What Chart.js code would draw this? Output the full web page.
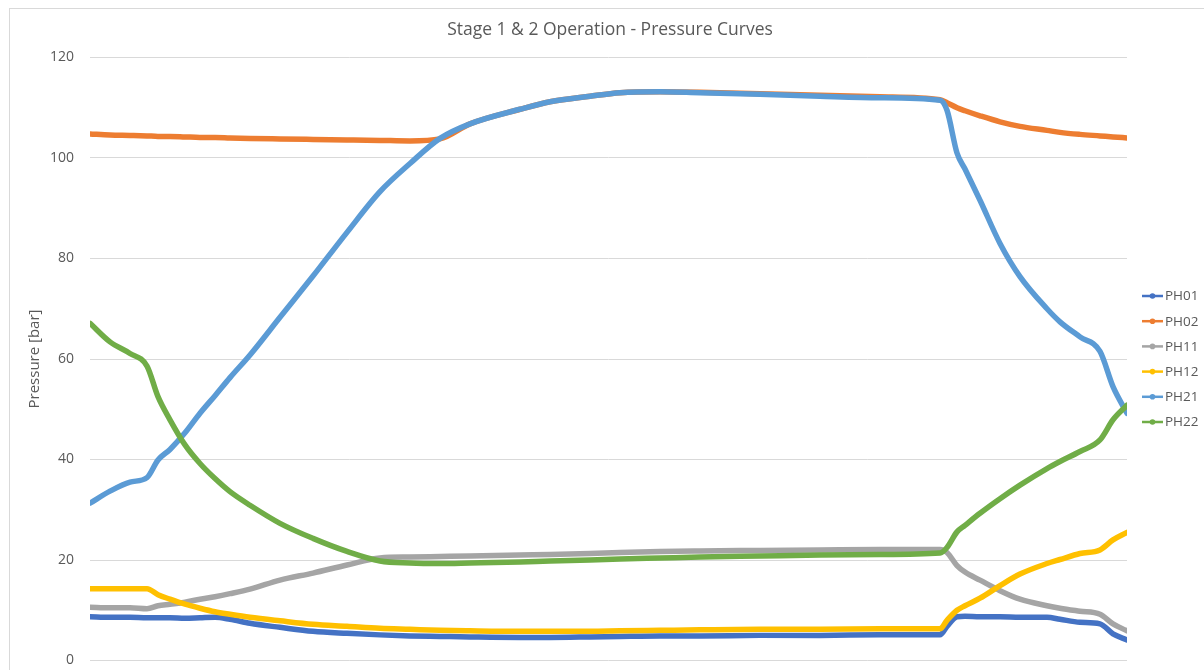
<!DOCTYPE html>
<html>
<head>
<meta charset="utf-8">
<script src="https://cdn.jsdelivr.net/npm/chart.js@4/dist/chart.umd.min.js"></script>
<style>
  html, body { margin: 0; padding: 0; background: #fff; }
  #wrap { width: 1204px; height: 670px; }
</style>
</head>
<body>
<div id="wrap"><canvas id="c" width="1204" height="670"></canvas></div>
<script>
// sample time (arbitrary units along the hidden x axis)
const time = [0,20,40,57,68,80,95,110,125,140,160,190,223,257,290,320,350,380,430,460,500,530,570,610,670,730,790,850,857,867,875,890,910,930,957,970,990,1010,1023,1037];

const PH01 = [8.7,8.6,8.6,8.5,8.5,8.5,8.4,8.5,8.6,8.2,7.4,6.6,5.8,5.4,5.1,4.9,4.8,4.7,4.6,4.6,4.7,4.8,4.9,4.9,5.0,5.0,5.1,5.1,6.8,8.7,8.8,8.7,8.7,8.6,8.6,8.2,7.6,7.3,5.3,4.1];
const PH02 = [104.8,104.6,104.5,104.4,104.3,104.3,104.2,104.1,104.1,104.0,103.9,103.8,103.7,103.6,103.5,103.4,103.8,106.8,109.7,111.2,112.3,113.0,113.2,113.1,112.8,112.5,112.2,111.6,111.0,110.0,109.4,108.4,107.2,106.3,105.5,105.1,104.7,104.4,104.2,104.0];
const PH11 = [10.6,10.5,10.5,10.3,10.9,11.2,11.6,12.2,12.7,13.3,14.2,16.0,17.4,19.0,20.4,20.6,20.7,20.8,21.0,21.1,21.3,21.5,21.7,21.8,21.9,22.0,22.1,22.1,21.5,18.9,17.6,16.0,13.9,12.2,10.9,10.4,9.8,9.2,7.3,5.9];
const PH12 = [14.3,14.3,14.3,14.3,13.1,12.2,11.2,10.4,9.7,9.2,8.6,7.9,7.2,6.8,6.4,6.2,6.0,5.9,5.8,5.8,5.8,5.9,6.0,6.1,6.2,6.2,6.3,6.3,8.0,10.0,10.9,12.4,14.9,17.2,19.3,20.1,21.3,22.0,24.0,25.5];
const PH21 = [31.3,33.7,35.5,36.4,39.9,42.0,45.3,49.2,52.7,56.3,60.8,68.3,76.5,85.2,93.3,98.9,103.9,106.8,109.7,111.2,112.3,113.0,113.2,113.0,112.7,112.3,112.0,111.5,109.5,101.0,97.8,91.6,83.0,76.4,70.0,67.4,64.4,61.5,54.5,49.2];
const PH22 = [67.1,63.4,61.1,58.6,52.5,47.9,42.9,39.2,36.2,33.6,30.9,27.3,24.3,21.7,19.8,19.4,19.3,19.4,19.6,19.8,20.0,20.2,20.4,20.6,20.8,21.0,21.1,21.4,22.5,25.6,26.9,29.3,32.2,34.9,38.2,39.6,41.6,43.9,47.9,50.8];

const seriesNames = ['PH01','PH02','PH11','PH12','PH21','PH22'];
const seriesValues = [PH01, PH02, PH11, PH12, PH21, PH22];
const seriesColors = ['#4472C4','#ED7D31','#A5A5A5','#FFC000','#5B9BD5','#70AD47'];

const yTicks = [0,20,40,60,80,100,120];
const chartTitle = 'Stage 1 & 2 Operation - Pressure Curves';

const FONT = "'Open Sans', 'Liberation Sans', sans-serif";
const TEXT = '#595959';

const datasets = seriesNames.map((name, i) => ({
  label: name,
  data: time.map((t, k) => ({ x: t, y: seriesValues[i][k] })),
  borderColor: seriesColors[i],
  backgroundColor: seriesColors[i],
  borderWidth: 5.5,
  pointRadius: 0,
  fill: false,
  cubicInterpolationMode: 'monotone',
  borderCapStyle: 'round',
  borderJoinStyle: 'round',
  order: seriesNames.length - i
}));

const frame = {
  id: 'frame',
  beforeDraw(chart) {
    const ctx = chart.ctx;
    ctx.save();
    ctx.fillStyle = '#ffffff';
    ctx.fillRect(0, 0, chart.width, chart.height);
    ctx.strokeStyle = '#d9d9d9';
    ctx.lineWidth = 1;
    ctx.strokeRect(9.5, 8.5, chart.width + 10, chart.height + 10);
    ctx.font = '17.5px ' + FONT;
    ctx.fillStyle = TEXT;
    ctx.textAlign = 'center';
    ctx.textBaseline = 'middle';
    ctx.fillText(chartTitle, 610, 30);
    ctx.restore();
  }
};

const sideLegend = {
  id: 'sideLegend',
  afterDraw(chart) {
    const ctx = chart.ctx;
    const area = chart.chartArea;
    const n = chart.data.datasets.length;
    const step = 25.2;
    const cy = (area.top + area.bottom) / 2;
    ctx.save();
    ctx.font = '13.5px ' + FONT;
    ctx.textBaseline = 'middle';
    ctx.textAlign = 'left';
    chart.data.datasets.forEach((ds, i) => {
      const y = cy + (i - (n - 1) / 2) * step;
      const x0 = area.right + 15;
      ctx.strokeStyle = ds.borderColor;
      ctx.lineWidth = 2.5;
      ctx.beginPath();
      ctx.moveTo(x0, y);
      ctx.lineTo(x0 + 21, y);
      ctx.stroke();
      ctx.fillStyle = ds.borderColor;
      ctx.beginPath();
      ctx.arc(x0 + 10.5, y, 2.8, 0, Math.PI * 2);
      ctx.fill();
      ctx.fillStyle = TEXT;
      ctx.fillText(ds.label, x0 + 23, y + 0.5);
    });
    ctx.restore();
  }
};

new Chart(document.getElementById('c'), {
  type: 'line',
  data: { datasets },
  options: {
    responsive: false,
    animation: false,
    devicePixelRatio: 1,
    layout: { padding: { left: 10, right: 77, top: 57.5, bottom: 9.5 } },
    plugins: {
      legend: { display: false },
      tooltip: { enabled: false },
      title: { display: false }
    },
    scales: {
      x: {
        type: 'linear',
        min: time[0],
        max: time[time.length - 1],
        display: false
      },
      y: {
        min: yTicks[0],
        max: yTicks[yTicks.length - 1],
        afterBuildTicks(scale) { scale.ticks = yTicks.map(v => ({ value: v })); },
        afterFit(scale) { scale.width = 80; scale.paddingTop = 0; scale.paddingBottom = 0; },
        ticks: {
          color: TEXT,
          font: { family: FONT, size: 14 },
          padding: 16
        },
        grid: { color: '#d9d9d9', lineWidth: 1, drawTicks: false },
        border: { display: false },
        title: {
          display: true,
          text: 'Pressure [bar]',
          color: TEXT,
          font: { family: FONT, size: 15 },
          padding: { top: 16, bottom: 8 }
        }
      }
    }
  },
  plugins: [frame, sideLegend]
});
</script>
</body>
</html>
